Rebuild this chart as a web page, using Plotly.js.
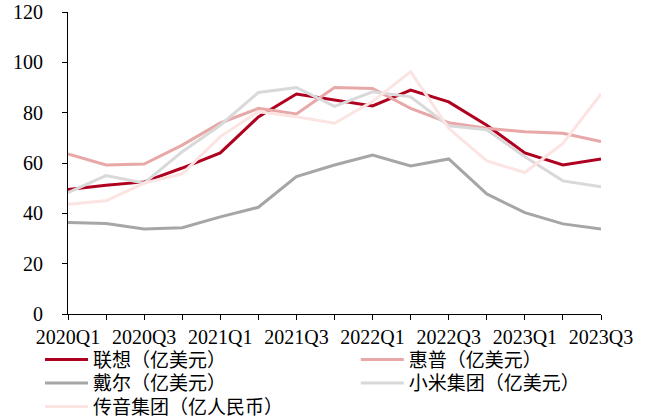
<!DOCTYPE html>
<html>
<head>
<meta charset="utf-8">
<script src="https://cdn.plot.ly/plotly-3.0.1.min.js"></script>
<style>html,body{margin:0;padding:0;background:#fff;}#chart{width:651px;height:418px;}</style>
</head>
<body>
<div id="chart"></div>
<script>
const quarters = ["2020Q1","2020Q2","2020Q3","2020Q4","2021Q1","2021Q2","2021Q3","2021Q4","2022Q1","2022Q2","2022Q3","2022Q4","2023Q1","2023Q2","2023Q3"];
const tickLabels = ["2020Q1","","2020Q3","","2021Q1","","2021Q3","","2022Q1","","2022Q3","","2023Q1","","2023Q3"];
const lenovo   = [49.5, 51.2, 52.5, 58.0, 64.0, 78.3, 87.4, 85.0, 82.7, 89.0, 84.3, 75.0, 64.0, 59.2, 61.6];
const hp       = [63.6, 59.2, 59.6, 67.1, 75.9, 81.7, 79.5, 90.0, 89.6, 81.7, 76.0, 73.8, 72.4, 71.8, 68.5];
const dell     = [36.4, 36.0, 33.8, 34.3, 38.6, 42.4, 54.6, 59.2, 63.2, 58.8, 61.6, 47.7, 40.3, 35.8, 33.8];
const xiaomi   = [48.2, 55.0, 52.0, 64.5, 75.0, 88.0, 90.0, 82.5, 88.3, 86.3, 74.8, 73.2, 62.5, 52.9, 50.6];
const transsion= [43.6, 45.0, 52.0, 55.7, 70.5, 80.4, 78.4, 75.8, 84.4, 96.3, 73.8, 60.8, 56.2, 67.8, 87.4];
const seriesNames = ["联想（亿美元）","惠普（亿美元）","戴尔（亿美元）","小米集团（亿美元）","传音集团（亿人民币）"];
const seriesColors = ["#B00020","#E8A8A8","#A6A6A6","#D9D9D9","#FCE4E2"];
const seriesData = [lenovo, hp, dell, xiaomi, transsion];
const legendIds = ["legend","legend2","legend3","legend4","legend5"];

const traces = seriesData.map((d, i) => ({
  type: "scatter",
  mode: "lines",
  x: quarters,
  y: d,
  name: seriesNames[i],
  legend: legendIds[i],
  line: {color: seriesColors[i], width: 3},
  cliponaxis: false
}));

const tickFont = {family: "Liberation Serif, Times New Roman, serif", size: 20, color: "#000"};
const legendFont = {family: "Liberation Serif, Noto Sans CJK SC, serif", size: 19, color: "#000"};

// legend placement (paper coords): column x, row y
const colX = [-0.0525, 0.540];
const rowY = [-0.088, -0.166, -0.244];
const legendSlot = [[0,0],[1,0],[0,1],[1,1],[0,2]];

const layout = {
  width: 651, height: 418,
  margin: {l: 68, r: 50, t: 12, b: 104, autoexpand: false},
  paper_bgcolor: "#fff", plot_bgcolor: "#fff",
  showlegend: true,
  xaxis: {
    type: "category",
    range: [0, 14],
    tickmode: "array",
    tickvals: quarters,
    ticktext: tickLabels,
    ticks: "outside", ticklen: 5, tickcolor: "#000", tickwidth: 1,
    showline: true, linecolor: "#000", linewidth: 1,
    showgrid: false, zeroline: false,
    tickfont: tickFont, tickangle: 0
  },
  yaxis: {
    range: [0, 120],
    tickmode: "linear", tick0: 0, dtick: 20,
    ticks: "outside", ticklen: 5, tickcolor: "#000", tickwidth: 1,
    ticklabelstandoff: 15,
    showline: true, linecolor: "#000", linewidth: 1,
    showgrid: false, zeroline: false,
    tickfont: tickFont
  }
};
legendIds.forEach((id, i) => {
  layout[id] = {
    orientation: "v",
    x: colX[legendSlot[i][0]], xanchor: "left",
    y: rowY[legendSlot[i][1]], yanchor: "top",
    itemwidth: 43,
    font: legendFont,
    bgcolor: "rgba(0,0,0,0)"
  };
});

Plotly.newPlot("chart", traces, layout, {displayModeBar: false, staticPlot: true});
</script>
</body>
</html>
